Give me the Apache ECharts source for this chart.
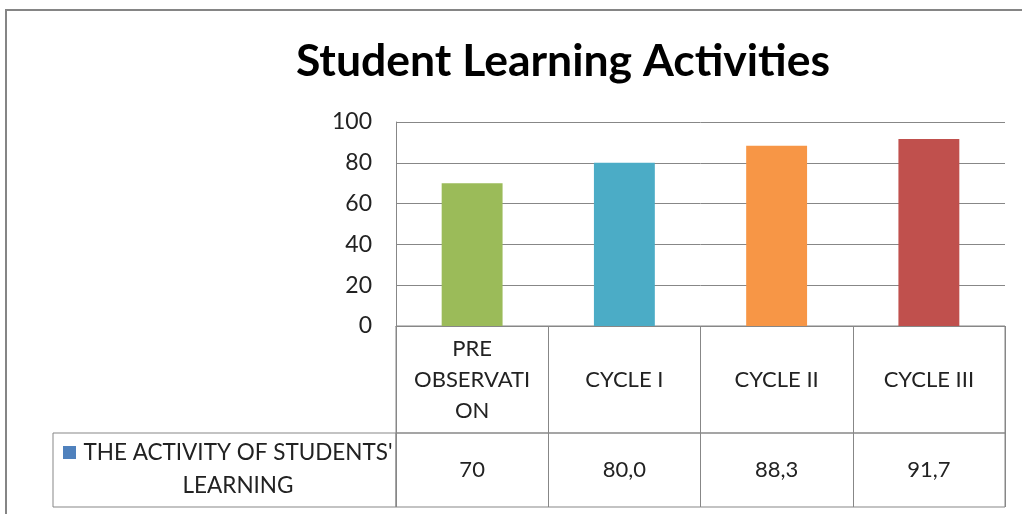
<!DOCTYPE html>
<html>
<head>
<meta charset="utf-8">
<script src="https://cdn.jsdelivr.net/npm/echarts@6/dist/echarts.min.js"></script>
<style>
  html, body { margin: 0; padding: 0; background: #fff; }
  #chart { width: 1022px; height: 514px; }
</style>
</head>
<body>
<div id="chart"></div>
<script>
var categories = ['PRE OBSERVATION', 'CYCLE I', 'CYCLE II', 'CYCLE III'];
var headerLabels = ['PRE\nOBSERVATI\nON', 'CYCLE I', 'CYCLE II', 'CYCLE III'];
var values = [70, 80.0, 88.3, 91.7];
var valueLabels = ['70', '80,0', '88,3', '91,7'];
var barColors = ['#9BBB59', '#4BACC6', '#F79646', '#C0504D'];
var seriesName = "THE ACTIVITY OF STUDENTS' LEARNING";
var legendLines = ["THE ACTIVITY OF STUDENTS'", 'LEARNING'];
var yMin = 0, yMax = 100, yStep = 20;

var FONT = 'Lato';
var lineColor = '#878787';
var textColor = '#222';

var barData = [];
for (var i = 0; i < values.length; i++) {
  barData.push({ value: values[i], itemStyle: { color: barColors[i] } });
}

// hidden helper axes for the table grids
function tableY(idx) {
  return { gridIndex: idx, type: 'value', show: false };
}

var myChart = echarts.init(document.getElementById('chart'));
myChart.setOption({
  animation: false,
  title: {
    text: 'Student Learning Activities',
    left: 558,
    textAlign: 'center',
    top: 34,
    textStyle: { fontFamily: FONT, fontSize: 44.5, fontWeight: 'bold', color: '#000' }
  },
  graphic: [{
    type: 'rect',
    shape: { x: 6, y: 10, width: 1100, height: 600 },
    style: { fill: 'none', stroke: '#858585', lineWidth: 2 },
    silent: true
  }],
  legend: {
    left: 58,
    top: 436,
    itemWidth: 13,
    itemHeight: 13,
    itemGap: 0,
    icon: 'rect',
    formatter: function () {
      return '{a|' + legendLines[0] + '}\n{a|' + legendLines[1] + '}';
    },
    textStyle: {
      padding: [33, 0, 0, 0],
      rich: {
        a: { width: 314, align: 'center', fontFamily: FONT, fontSize: 22.5, lineHeight: 33, color: textColor }
      }
    }
  },
  grid: [
    { left: 396, right: 17, top: 122, height: 204 },
    { left: 396, right: 17, top: 326, height: 107, show: true, borderColor: lineColor, borderWidth: 1 },
    { left: 396, right: 17, top: 433, height: 74, show: true, borderColor: lineColor, borderWidth: 1 },
    { left: 53, width: 343, top: 433, height: 74, show: true, borderColor: lineColor, borderWidth: 1 }
  ],
  xAxis: [
    {
      gridIndex: 0,
      type: 'category',
      data: categories,
      axisLine: { lineStyle: { color: lineColor } },
      axisTick: { show: false },
      axisLabel: { show: false }
    },
    {
      gridIndex: 1,
      type: 'category',
      position: 'top',
      data: categories,
      axisLine: { show: false },
      axisTick: { show: false },
      splitLine: { show: true, lineStyle: { color: lineColor } },
      axisLabel: {
        inside: true,
        margin: 54,
        verticalAlign: 'middle',
        align: 'center',
        lineHeight: 31,
        fontFamily: FONT,
        fontSize: 22,
        color: textColor,
        formatter: function (v, idx) { return headerLabels[idx]; }
      }
    },
    {
      gridIndex: 2,
      type: 'category',
      position: 'top',
      data: categories,
      axisLine: { show: false },
      axisTick: { show: false },
      splitLine: { show: true, lineStyle: { color: lineColor } },
      axisLabel: {
        inside: true,
        margin: 37,
        verticalAlign: 'middle',
        align: 'center',
        fontFamily: FONT,
        fontSize: 22,
        color: textColor,
        formatter: function (v, idx) { return valueLabels[idx]; }
      }
    },
    { gridIndex: 3, type: 'category', data: ['legend'], show: false }
  ],
  yAxis: [
    {
      gridIndex: 0,
      type: 'value',
      min: yMin,
      max: yMax,
      interval: yStep,
      axisLine: { show: true, lineStyle: { color: lineColor } },
      axisTick: { show: false },
      splitLine: { lineStyle: { color: lineColor } },
      axisLabel: { margin: 24, fontFamily: FONT, fontSize: 23, color: textColor }
    },
    tableY(1),
    tableY(2),
    tableY(3)
  ],
  series: [
    {
      name: seriesName,
      type: 'bar',
      xAxisIndex: 0,
      yAxisIndex: 0,
      barWidth: '40%',
      itemStyle: { color: '#4F81BD' },
      data: barData
    }
  ]
});
</script>
</body>
</html>
